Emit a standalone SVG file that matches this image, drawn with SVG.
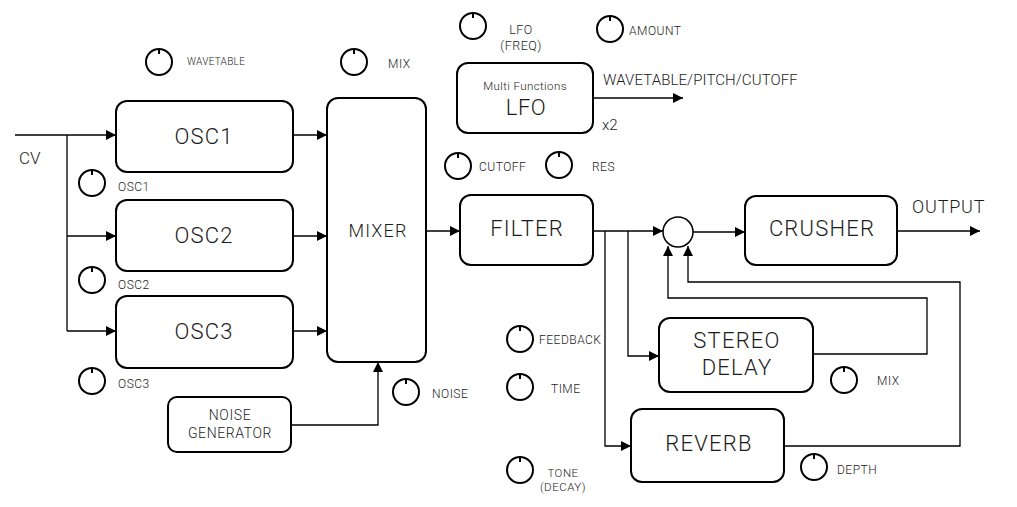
<svg xmlns="http://www.w3.org/2000/svg" width="1017" height="507" viewBox="0 0 1017 507">
<defs>
<marker id="ah" viewBox="0 0 10 10" refX="10" refY="5" markerWidth="10" markerHeight="10" markerUnits="userSpaceOnUse" orient="auto"><path d="M0,0 L10,5 L0,10 Z" fill="#000"/></marker>
<g id="knob"><circle cx="0" cy="0" r="13" fill="none" stroke="#000" stroke-width="2"/><rect x="-1" y="-13" width="2" height="5" fill="#000"/></g>
</defs>
<style>
.box{fill:#fff;stroke:#000;stroke-width:2}
.c{fill:none;stroke:#000;stroke-width:1.3}
text{font-family:Roboto,"Noto Sans",sans-serif;fill:#1c1c1c;font-weight:300}
.big{font-size:22px;letter-spacing:1.2px;text-anchor:middle}
.sm{font-size:12px;letter-spacing:0.5px}
.mid{font-size:14px;letter-spacing:0.6px;text-anchor:middle}
</style>
<rect width="1017" height="507" fill="#fff"/>
<g id="connectors">
<path class="c" d="M15,135 H116" marker-end="url(#ah)"/>
<path class="c" d="M67,135 V331"/>
<path class="c" d="M67,236 H116" marker-end="url(#ah)"/>
<path class="c" d="M67,331 H116" marker-end="url(#ah)"/>
<path class="c" d="M293,135 H327" marker-end="url(#ah)"/>
<path class="c" d="M293,236 H327" marker-end="url(#ah)"/>
<path class="c" d="M293,331 H327" marker-end="url(#ah)"/>
<path class="c" d="M291,425 H378 V362" marker-end="url(#ah)"/>
<path class="c" d="M426,231 H460" marker-end="url(#ah)"/>
<path class="c" d="M593,98 H683" marker-end="url(#ah)"/>
<path class="c" d="M593,231 H663" marker-end="url(#ah)"/>
<path class="c" d="M605,231 V446 H631" marker-end="url(#ah)"/>
<path class="c" d="M628,231 V356 H659" marker-end="url(#ah)"/>
<path class="c" d="M693,232 H745" marker-end="url(#ah)"/>
<path class="c" d="M897,231 H980" marker-end="url(#ah)"/>
<path class="c" d="M813,354 H927 V298 H668 V246" marker-end="url(#ah)"/>
<path class="c" d="M784,446 H960 V282 H688 V246" marker-end="url(#ah)"/>
</g>
<g id="osc1"><rect class="box" x="116" y="101" width="177" height="71" rx="11"/><text class="big" x="204" y="144">OSC1</text></g>
<g id="osc2"><rect class="box" x="116" y="200" width="177" height="71" rx="11"/><text class="big" x="204" y="243">OSC2</text></g>
<g id="osc3"><rect class="box" x="116" y="296" width="177" height="72" rx="11"/><text class="big" x="204" y="339">OSC3</text></g>
<g id="mixer"><rect class="box" x="327" y="98" width="99" height="264" rx="11"/><text x="378" y="237" font-size="18" letter-spacing="1.2" text-anchor="middle">MIXER</text></g>
<g id="noise"><rect class="box" x="168" y="397" width="123" height="55" rx="9"/><text class="mid" x="230" y="420">NOISE</text><text class="mid" x="230" y="438">GENERATOR</text></g>
<g id="lfo"><rect class="box" x="457" y="63" width="136" height="70" rx="11"/><text x="525" y="90" font-size="11.5" letter-spacing="0.4" text-anchor="middle">Multi Functions</text><text x="526" y="115" font-size="22" letter-spacing="0.5" text-anchor="middle">LFO</text></g>
<g id="filter"><rect class="box" x="460" y="195" width="133" height="70" rx="11"/><text class="big" x="527" y="236">FILTER</text></g>
<g id="mixnode"><circle cx="678" cy="232" r="15" fill="#fff" stroke="#000" stroke-width="1.5"/></g>
<g id="crusher"><rect class="box" x="745" y="196" width="152" height="69" rx="11"/><text class="big" x="822" y="236">CRUSHER</text></g>
<g id="delay"><rect class="box" x="659" y="318" width="154" height="74" rx="11"/><text class="big" x="737" y="348">STEREO</text><text class="big" x="737" y="375">DELAY</text></g>
<g id="reverb"><rect class="box" x="631" y="409" width="153" height="73" rx="11"/><text class="big" x="709" y="451">REVERB</text></g>
<g id="knobs">
<use href="#knob" x="159" y="62"/>
<use href="#knob" x="354" y="62"/>
<use href="#knob" x="92" y="183"/>
<use href="#knob" x="92" y="280"/>
<use href="#knob" x="92" y="381"/>
<use href="#knob" x="473" y="26"/>
<use href="#knob" x="610" y="29"/>
<use href="#knob" x="458" y="166"/>
<use href="#knob" x="559" y="165"/>
<use href="#knob" x="520" y="339"/>
<use href="#knob" x="520" y="387"/>
<use href="#knob" x="520" y="470"/>
<use href="#knob" x="406" y="392"/>
<use href="#knob" x="844" y="380"/>
<use href="#knob" x="814" y="467"/>
</g>
<g id="labels">
<text x="19" y="164" font-size="17">CV</text>
<text x="187" y="65" font-size="10" letter-spacing="0.3">WAVETABLE</text>
<text class="sm" x="388" y="68">MIX</text>
<text class="sm" x="118" y="191">OSC1</text>
<text class="sm" x="118" y="289">OSC2</text>
<text class="sm" x="118" y="388">OSC3</text>
<text x="521" y="34" font-size="12.5" letter-spacing="0.5" text-anchor="middle">LFO</text>
<text x="521" y="50" font-size="12.5" letter-spacing="0.5" text-anchor="middle">(FREQ)</text>
<text class="sm" x="629" y="35">AMOUNT</text>
<text x="603" y="85" font-size="15" letter-spacing="0.1">WAVETABLE/PITCH/CUTOFF</text>
<text x="602" y="130" font-size="15">x2</text>
<text class="sm" x="479" y="171">CUTOFF</text>
<text class="sm" x="592" y="171">RES</text>
<text x="912" y="213" font-size="18" letter-spacing="0.8">OUTPUT</text>
<text class="sm" x="539" y="344">FEEDBACK</text>
<text class="sm" x="551" y="393">TIME</text>
<text x="563" y="477" font-size="11.5" letter-spacing="0.5" text-anchor="middle">TONE</text>
<text x="563" y="491" font-size="11.5" letter-spacing="0.5" text-anchor="middle">(DECAY)</text>
<text class="sm" x="432" y="398">NOISE</text>
<text class="sm" x="877" y="385">MIX</text>
<text class="sm" x="837" y="474">DEPTH</text>
</g>
</svg>
